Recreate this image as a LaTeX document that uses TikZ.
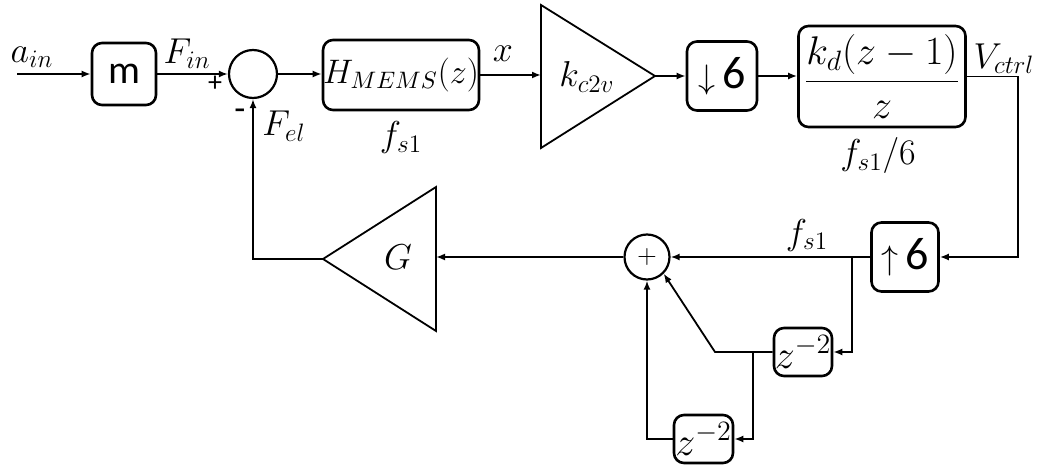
\RequirePackage{fix-cm}
\documentclass[tikz,border=0pt]{standalone}
\usepackage{fontspec}
\setmainfont{Carlito}
\usetikzlibrary{arrows.meta,positioning}

\begin{document}
\begin{tikzpicture}[x=0.5pt,y=-0.5pt,every node/.style={font=\fontsize{18}{22}\selectfont},blk/.style={draw,line width=1.3pt,rounded corners=5pt,inner sep=0pt},sumc/.style={draw,circle,line width=1.1pt,inner sep=0pt},arr/.style={-{Latex[length=4.5pt,width=3.5pt]},line width=0.9pt},big/.style={font=\fontsize{23}{28}\selectfont},mid/.style={font=\fontsize{20}{24}\selectfont}]
\useasboundingbox (0,0) rectangle (1045,465);
\coordinate (in) at (17,74);
\node (ain) at (32,57) {$a_{in}$};
\node[blk,mid,minimum width=32pt,minimum height=31pt] (m) at (124,74) {m};
\node (fin) at (187,54) {$F_{in}$};
\node[sumc,minimum size=24pt] (s1) at (253,74) {};
\node[font=\fontsize{14}{16}\selectfont] (pl) at (215,84) {+};
\node (mi) at (240,115) {-};
\node (fel) at (284,126) {$F_{el}$};
\node[blk,minimum width=75.5pt,minimum height=35pt,font=\fontsize{17}{20}\selectfont] (h) at (401,75) {$H_{MEMS}(z)$};
\node (fa) at (401,138) {$f_{s1}$};
\node (x) at (503,54) {$x$};
\coordinate (kin) at (541,76); \coordinate (kout) at (655,76);
\draw[line width=0.9pt] (541,5) -- (541,148) -- (kout) -- cycle;
\node (kc) at (587,77) {$k_{c2v}$};
\node[blk,big,minimum width=35pt,minimum height=34.5pt] (dn) at (722,76) {{\fontsize{17}{20}\selectfont$\downarrow$}\,6};
\node[blk,mid,minimum width=83.5pt,minimum height=50.5pt] (ctl) at (882,76.5) {$\displaystyle\frac{k_d(z-1)}{z}$};
\node (fb) at (878,156) {$f_{s1}/6$};
\node (vc) at (1004,59) {$V_{ctrl}$};
\coordinate (c1) at (1018,77);
\node[blk,big,minimum width=33.5pt,minimum height=34.5pt] (up) at (905,257) {{\fontsize{17}{20}\selectfont$\uparrow$}\,6};
\node[sumc,minimum size=22.5pt,font=\fontsize{13}{15}\selectfont] (s2) at (647,257) {$+$};
\node (fc) at (807,235) {$f_{s1}$};
\coordinate (b1) at (852,257);
\node[blk,mid,minimum width=29pt,minimum height=24pt] (za) at (803,352) {$z^{-2}$};
\coordinate (k1) at (715,352); \coordinate (b2) at (753,352);
\node[blk,mid,minimum width=29.5pt,minimum height=24pt] (zb) at (703.5,439) {$z^{-2}$};
\coordinate (gin) at (436,257); \coordinate (gout) at (323,259);
\draw[line width=0.9pt] (436,187) -- (436,331) -- (gout) -- cycle;
\node (g) at (398,257) {$G$};
\draw[arr] (in) -- (m); \draw[arr] (m) -- (s1); \draw[arr] (s1) -- (s1 -| h.west);
\draw[arr] (h.east) -- (h.east -| kin); \draw[arr] (kout) -- (kout -| dn.west); \draw[arr] (dn.east) -- (dn.east -| ctl.west);
\draw[arr] (ctl.east) -- (ctl.east -| c1) |- (up.east);
\draw[arr] (up) -- (s2); \draw[arr] (b1) |- (za.east);
\draw[arr] (za.west) -- (k1) -- (s2.south east); \draw[arr] (b2) |- (zb.east); \draw[arr] (zb.west) -| (s2.south);
\draw[arr] (s2) -- (gin); \draw[arr] (gout) -| (s1.south);
\end{tikzpicture}
\end{document}
